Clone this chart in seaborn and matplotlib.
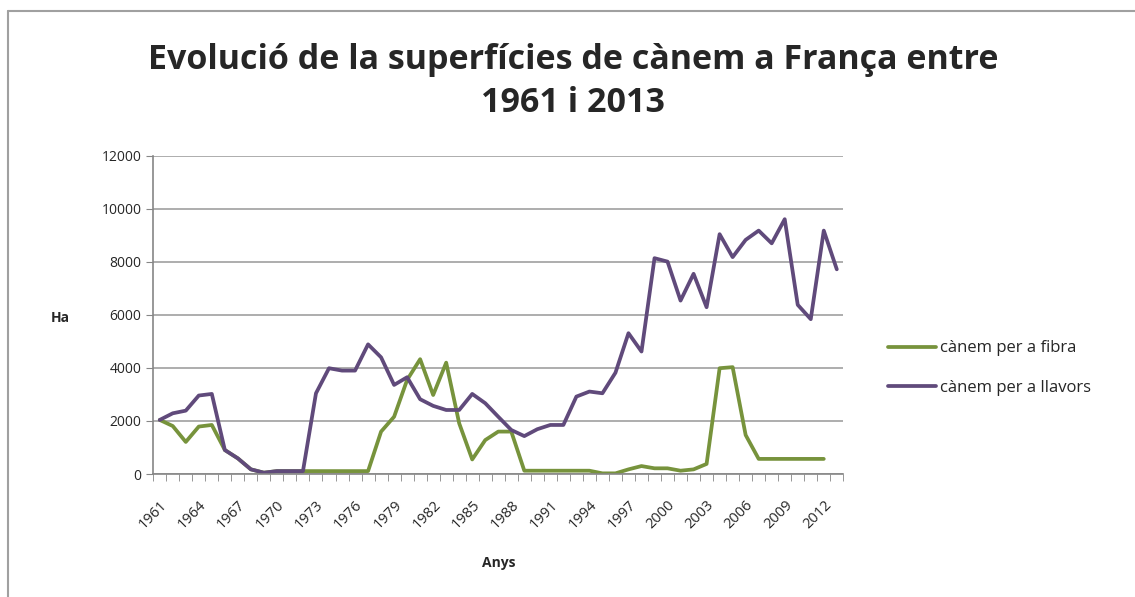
import numpy as np
import pandas as pd
import matplotlib.pyplot as plt
import seaborn as sns

years = list(range(1961, 2014))

# cànem per a fibra (ha), 2013 missing
fibra = [2040, 1810, 1210, 1790, 1850, 905, 590, 176, 50, 110,
         110, 110, 110, 110, 110, 110, 110, 1600, 2160, 3550,
         4330, 2980, 4200, 1910, 550, 1280, 1600, 1600, 125, 125,
         125, 125, 125, 125, 25, 25, 175, 300, 215, 215,
         125, 175, 380, 3990, 4030, 1470, 570, 570, 570, 570,
         570, 570, np.nan]

# cànem per a llavors (ha)
llavors = [2040, 2290, 2390, 2960, 3020, 905, 590, 176, 50, 110,
           110, 110, 3045, 3990, 3900, 3900, 4890, 4400, 3360, 3650,
           2820, 2570, 2415, 2415, 3020, 2670, 2160, 1660, 1430, 1690,
           1850, 1850, 2920, 3110, 3045, 3820, 5310, 4620, 8140, 8010,
           6540, 7550, 6290, 9045, 8180, 8830, 9180, 8700, 9610, 6380,
           5840, 9180, 7720]

series_names = ["cànem per a fibra", "cànem per a llavors"]
colors = ["#77933C", "#604A7B"]

df = pd.DataFrame({"Any": years * 2,
                   "Ha": fibra + llavors,
                   "serie": [series_names[0]] * len(years) + [series_names[1]] * len(years)})

sns.set_style("white")
plt.rcParams['font.family'] = ['Open Sans', 'DejaVu Sans']

fig = plt.figure(figsize=(11.35, 5.97), dpi=100)
ax = fig.add_axes([0.135, 0.206, 0.608, 0.533])

sns.lineplot(data=df, x="Any", y="Ha", hue="serie", palette=colors,
             linewidth=2.7, ax=ax)

ax.set_xlim(1960.5, 2013.5)
ax.set_ylim(0, 12000)
ax.set_yticks(range(0, 12001, 2000))
ax.set_xticks(range(1961, 2013, 3))
ax.set_xticks(np.arange(1960.5, 2014, 1), minor=True)
ax.set_xticklabels([str(y) for y in range(1961, 2013, 3)], rotation=45,
                   ha='right', rotation_mode='anchor', fontsize=10.5)
ax.tick_params(axis='x', which='major', length=0, pad=17)
ax.tick_params(axis='x', which='minor', length=5, color='#868686', direction='out', bottom=True)
ax.tick_params(axis='y', length=5, color='#868686', direction='out', left=True, labelsize=10)
ax.grid(axis='y', color='#a0a0a0', linewidth=1.2)
ax.set_axisbelow(True)
for s in ['top', 'right']:
    ax.spines[s].set_visible(False)
for s in ['left', 'bottom']:
    ax.spines[s].set_color('#868686')
    ax.spines[s].set_linewidth(1.2)

ax.set_xlabel("Anys", fontsize=10, fontweight='bold', labelpad=17)
ax.set_ylabel("Ha", fontsize=10, fontweight='bold', rotation=0, va='center', labelpad=0)
ax.yaxis.set_label_coords(-0.135, 0.49)

fig.text(0.505, 0.928, "Evolució de la superfícies de cànem a França entre\n1961 i 2013",
         ha='center', va='top', fontsize=24.5, fontweight='bold', linespacing=1.35)

ax.legend(title=None, frameon=False, loc='center left', bbox_to_anchor=(1.043, 0.333),
          fontsize=12, handlelength=2.9, handletextpad=0.2, labelspacing=1.4)

# chart area border (only top and left edges visible in the crop)
fig.add_artist(plt.Line2D([0.007, 0.007], [0.0, 0.982], transform=fig.transFigure,
                          color='#a0a0a0', linewidth=1.5))
fig.add_artist(plt.Line2D([0.007, 1.0], [0.982, 0.982], transform=fig.transFigure,
                          color='#a0a0a0', linewidth=1.5))

fig.savefig("out.png", dpi=100)
